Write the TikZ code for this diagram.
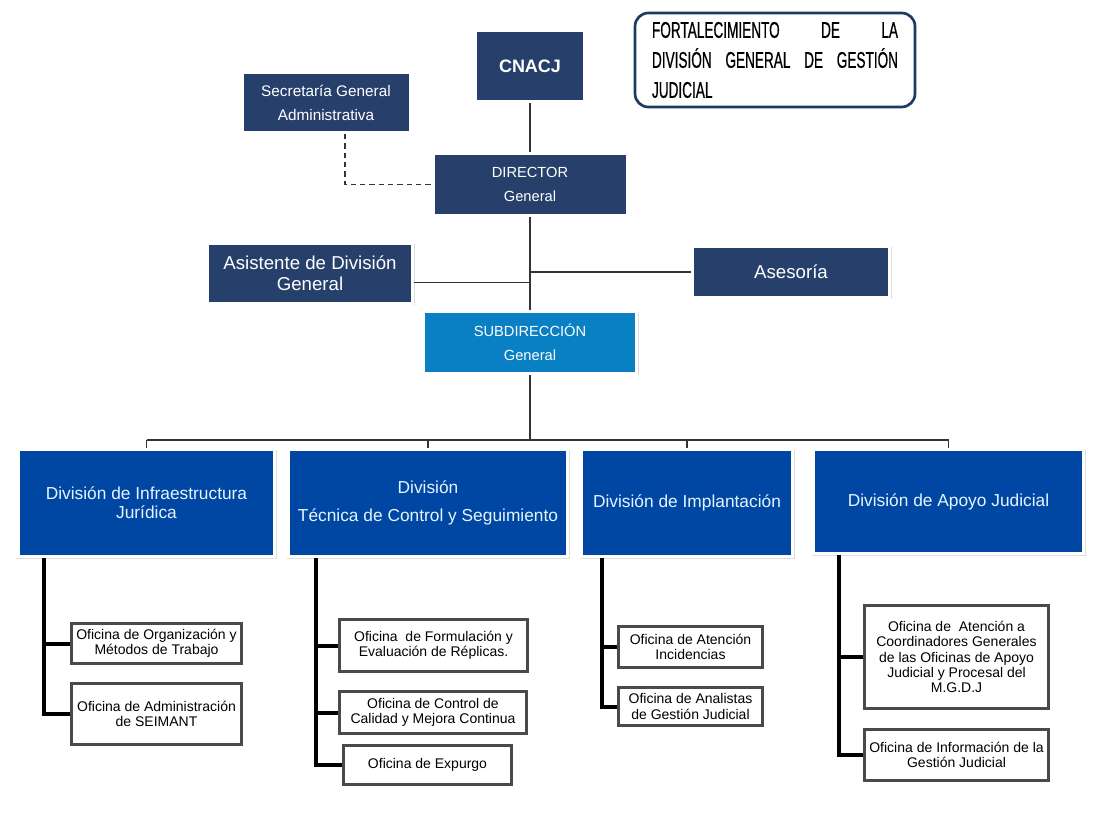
\documentclass[tikz,border=0pt]{standalone}
\usepackage{fontspec}
\setmainfont{Liberation Sans}
\newfontfamily\titlefont[FakeStretch=0.6, FakeBold=0.6]{Liberation Sans}
\usetikzlibrary{calc, positioning, shadows}

\definecolor{navybox}{HTML}{27406B}
\definecolor{divblue}{HTML}{0047A3}
\definecolor{subblue}{HTML}{0A80C4}
\definecolor{titleline}{HTML}{1F3A60}
\definecolor{officeline}{HTML}{4A4A4A}
\definecolor{linkgray}{HTML}{333333}
\definecolor{divtext}{HTML}{E6F4FF}

\begin{document}
\begin{tikzpicture}[x=0.75pt, y=-0.75pt, thick]
    \tikzset{
        boxsize/.style 2 args={minimum width=#1*0.75pt, minimum height=#2*0.75pt},
        blue_box/.style={draw=white, line width=2.25pt, align=center, inner sep=0pt,
            general shadow={fill=gray!45, shadow scale=1.015, shadow xshift=0.6pt, shadow yshift=-0.9pt, opacity=0.6}},
        top_box/.style={blue_box, fill=navybox, text=white},
        div_box/.style={blue_box, fill=divblue, text=divtext,
            font=\fontsize{13}{14.5}\selectfont},
        office_box/.style={draw=officeline, line width=2.25pt, fill=white, text=black,
            align=center, inner sep=0pt, font=\fontsize{10.5}{11.5}\selectfont},
        title_box/.style={draw=titleline, line width=2pt, rounded corners=10pt, fill=white,
            align=left, inner sep=0pt, font=\titlefont\fontsize{17}{22.5}\selectfont},
        link/.style={draw=linkgray, line width=1pt},
        branch/.style={draw=black, line width=3pt},
        dash_link/.style={link, line width=1.1pt, dash pattern=on 4pt off 3pt}
    }
    \useasboundingbox (0,0) rectangle (1098,834);

    % title
    \node[title_box, boxsize={280}{94}] (title) at (775,60) {%
        \makebox[184.5pt][s]{FORTALECIMIENTO DE LA}\\
        \makebox[184.5pt][s]{DIVISIÓN GENERAL DE GESTIÓN}\\
        JUDICIAL};

    % upper levels
    \node[top_box, boxsize={109}{71}, font=\bfseries\fontsize{13.5}{15}\selectfont] (cnacj) at (530,66) {CNACJ};
    \node[top_box, boxsize={168}{60}, font=\fontsize{11.5}{18}\selectfont] (sec) at (326,102.5)
        {Secretaría General\\Administrativa};
    \node[top_box, boxsize={194}{62}, font=\fontsize{11}{18}\selectfont] (dir) at (530,184.5)
        {DIRECTOR\\General};
    \node[top_box, boxsize={205}{60}, font=\fontsize{14}{16}\selectfont] (asis) at (310,273.5)
        {Asistente de División\\General};
    \node[top_box, boxsize={197}{51}, font=\fontsize{14}{16}\selectfont] (ases) at (791,272)
        {Asesoría};
    \node[blue_box, fill=subblue, text=white, boxsize={213}{62}, font=\fontsize{11}{18}\selectfont] (sub) at (530,342.5)
        {SUBDIRECCIÓN\\General};

    % divisions
    \node[div_box, boxsize={256}{107}] (d1) at (146.5,503) {División de Infraestructura\\Jurídica};
    \node[div_box, boxsize={279}{107}] (d2) at (428,503) {División\\[6pt]Técnica de Control y Seguimiento};
    \node[div_box, boxsize={211}{107}] (d3) at (687,503) {División de Implantación};
    \node[div_box, boxsize={270}{104}] (d4) at (948.5,501.5) {División de Apoyo Judicial};

    % offices
    \node[office_box, boxsize={170}{40}] (o11) at (156.5,643.5) {Oficina de Organización y\\Métodos de Trabajo};
    \node[office_box, boxsize={170}{61}] (o12) at (156.5,714) {Oficina de Administración\\de SEIMANT};
    \node[office_box, boxsize={188}{52}] (o21) at (433.5,645.5) {Oficina\ \ de Formulación y\\Evaluación de Réplicas.};
    \node[office_box, boxsize={187}{42}] (o22) at (433,712.5) {Oficina de Control de\\Calidad y Mejora Continua};
    \node[office_box, boxsize={168}{39}] (o23) at (427.5,765) {Oficina de Expurgo};
    \node[office_box, boxsize={144}{41}] (o31) at (690.5,647) {Oficina de Atención\\Incidencias};
    \node[office_box, boxsize={144}{38}] (o32) at (690.5,706.5) {Oficina de Analistas\\de Gestión Judicial};
    \node[office_box, boxsize={184}{103}] (o41) at (956.5,657)
        {Oficina de\ \ Atención a\\Coordinadores Generales\\de las Oficinas de Apoyo\\Judicial y Procesal del\\M.G.D.J};
    \node[office_box, boxsize={184}{51}] (o42) at (956.5,755) {Oficina de Información de la\\Gestión Judicial};

    % upper connectors
    \draw[link] (cnacj) -- (dir);
    \draw[link] (dir) -- (sub);
    \draw[dash_link] ($(sec.south)+(19,0)$) |- (dir.west);
    \draw[link] ([yshift=-6.5pt]asis.east) -- ([yshift=-6.5pt]asis.east -| dir.south);
    \draw[link] (ases.west) -- (ases.west -| dir.south);

    % bus to divisions
    \coordinate (bus) at (530,440);
    \draw[link] (sub.south) -- (bus);
    \draw[link] (d1.north |- bus) -- (d4.north |- bus);
    \foreach \d in {d1,d2,d3,d4}
        \draw[link] (\d.north |- bus) -- (\d.north);

    % division branches
    \coordinate (t1) at ($(d1.south west)+(26.5,0)$);
    \coordinate (t2) at ($(d2.south west)+(28.5,0)$);
    \coordinate (t3) at ($(d3.south west)+(21.5,0)$);
    \coordinate (t4) at ($(d4.south west)+(26.5,0)$);
    \draw[branch] (t1) |- (o11.west);
    \draw[branch] (t1) |- (o12.west);
    \draw[branch] (t2) |- (o21.west);
    \draw[branch] (t2) |- (o22.west);
    \draw[branch] (t2) |- (o23.west);
    \draw[branch] (t3) |- (o31.west);
    \draw[branch] (t3) |- (o32.west);
    \draw[branch] (t4) |- (o41.west);
    \draw[branch] (t4) |- (o42.west);

\end{tikzpicture}
\end{document}
